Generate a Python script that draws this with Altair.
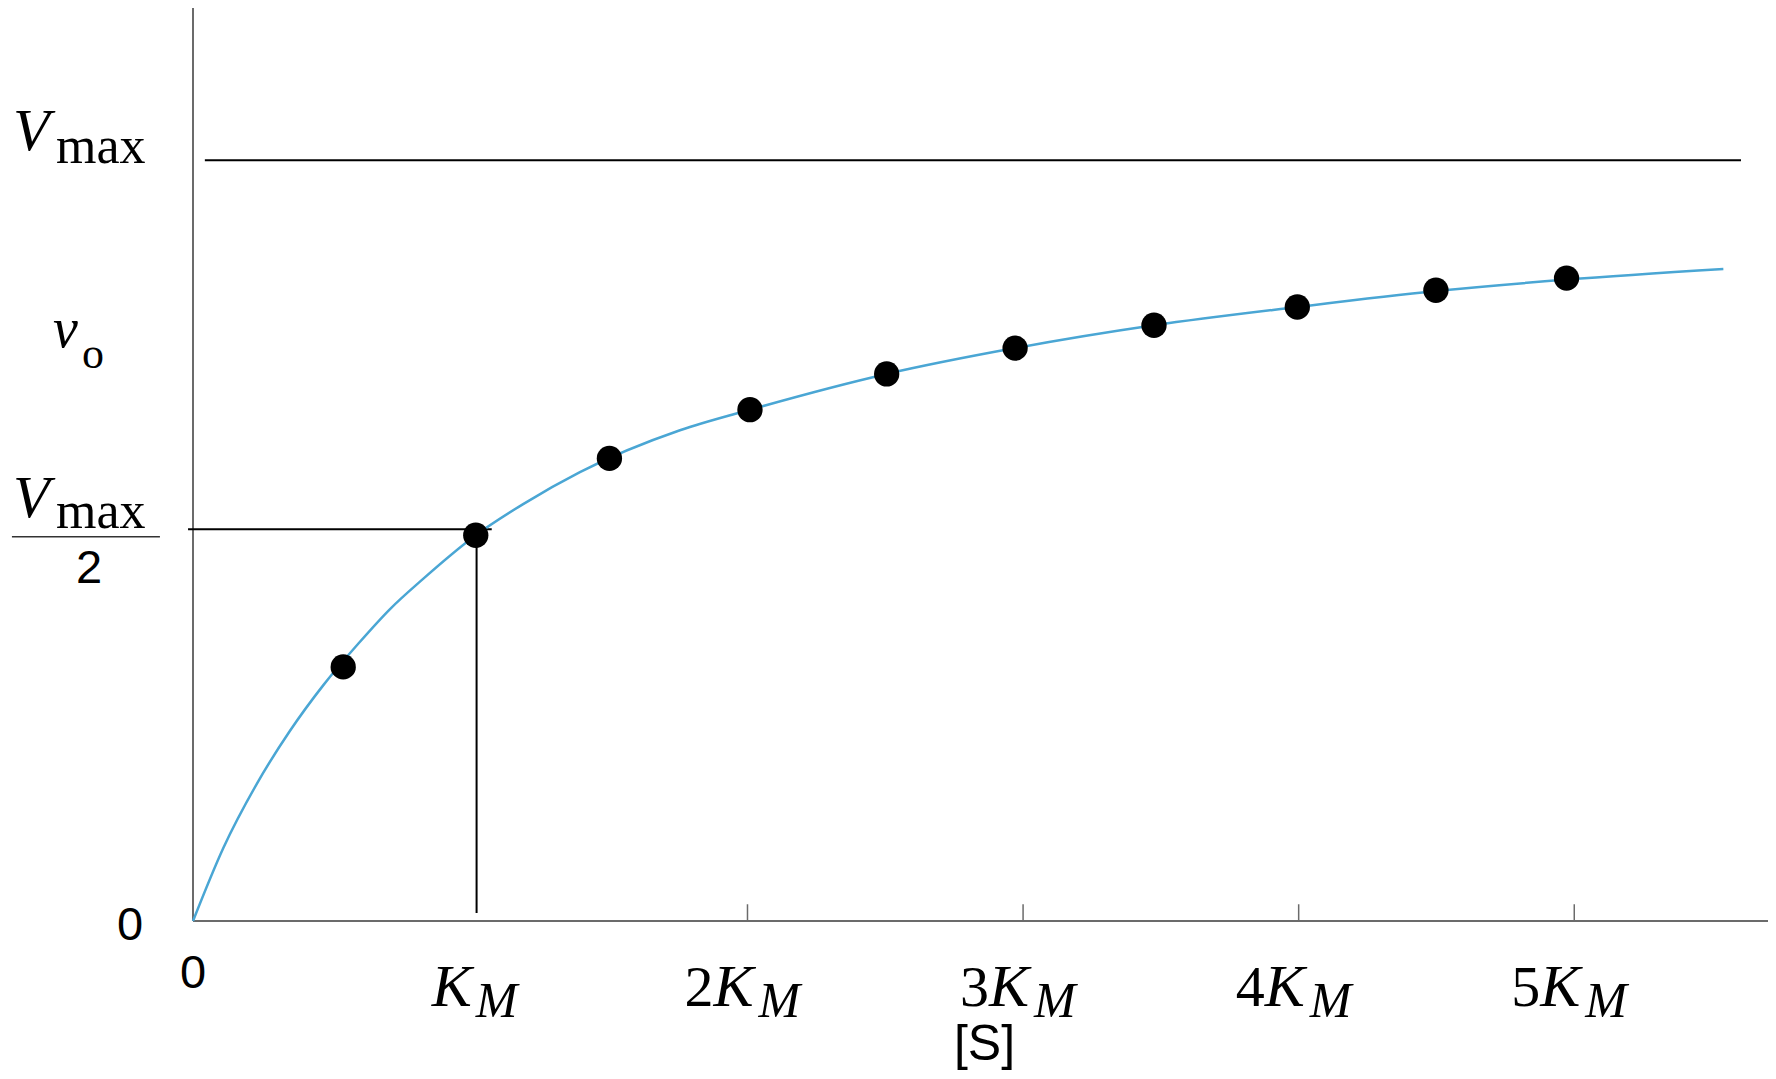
import altair as alt
import pandas as pd

# ---- data (x in units of K_M, y in units of V_max) ----
dot_s = [0.533, 1.014, 1.499, 2.009, 2.505, 2.971, 3.475, 3.995, 4.498, 4.972]
dot_v = [0.334, 0.507, 0.608, 0.672, 0.719, 0.753, 0.783, 0.807, 0.829, 0.845]

curve_s = [-0.012, 0.098, 0.219, 0.340, 0.461, 0.589, 0.703, 0.824, 1.014, 1.186,
           1.392, 1.755, 2.009, 2.505, 2.971, 3.475, 3.995, 4.498, 4.972, 5.541]
curve_v = [0.0, 0.096, 0.180, 0.250, 0.310, 0.365, 0.410, 0.450, 0.507, 0.548,
           0.590, 0.645, 0.672, 0.719, 0.753, 0.783, 0.807, 0.828, 0.843, 0.857]

tick_vals = [2, 3, 4, 5]
km_label_vals = [1.014]
nkm_label_vals = [2, 3, 4, 5]
nkm_digits = ["2", "3", "4", "5"]

x_min = -0.012          # position of the vertical axis line
x_max = 5.703
y_max = 1.2
vmax = 1.0
vmax_line = [0.031, 5.605]
half_v = 0.515
half_line = [-0.030, 1.072]
km_line_s = 1.017
km_line_v = [0.0105, 0.515]
frac_v = 0.505
frac_bar = [-0.669, -0.132]
vo_v = 0.75
tick_len = 0.022
s_label_x = 2.86

SERIF = "Liberation Serif"
SANS = "Liberation Sans"
CURVE = "#4aa6d4"
AXIS = "#6b6b6b"

xs = alt.Scale(domain=[x_min, x_max], nice=False, zero=False)
ys = alt.Scale(domain=[0, y_max], nice=False, zero=False)

def X(f="s"):
    return alt.X(f"{f}:Q", scale=xs, axis=None)

def Y(f="v"):
    return alt.Y(f"{f}:Q", scale=ys, axis=None)

# axes
yaxis = alt.Chart(pd.DataFrame({"s": [x_min], "v": [0], "v2": [y_max]})).mark_rule(
    color=AXIS, strokeWidth=2).encode(x=X(), y=Y(), y2="v2:Q")
xaxis = alt.Chart(pd.DataFrame({"s": [x_min], "s2": [x_max], "v": [0]})).mark_rule(
    color=AXIS, strokeWidth=2).encode(x=X(), x2="s2:Q", y=Y())
ticks = alt.Chart(pd.DataFrame({"s": tick_vals, "v": [0] * 4, "v2": [tick_len] * 4})).mark_rule(
    color=AXIS, strokeWidth=1.5).encode(x=X(), y=Y(), y2="v2:Q")

# reference lines
vmax_rule = alt.Chart(pd.DataFrame({"s": [vmax_line[0]], "s2": [vmax_line[1]], "v": [vmax]})).mark_rule(
    color="black", strokeWidth=2).encode(x=X(), x2="s2:Q", y=Y())
half_rule = alt.Chart(pd.DataFrame({"s": [half_line[0]], "s2": [half_line[1]], "v": [half_v]})).mark_rule(
    color="black", strokeWidth=2).encode(x=X(), x2="s2:Q", y=Y())
km_rule = alt.Chart(pd.DataFrame({"s": [km_line_s], "v": [km_line_v[0]], "v2": [km_line_v[1]]})).mark_rule(
    color="black", strokeWidth=2).encode(x=X(), y=Y(), y2="v2:Q")
frac_rule = alt.Chart(pd.DataFrame({"s": [frac_bar[0]], "s2": [frac_bar[1]], "v": [frac_v]})).mark_rule(
    color="#333333", strokeWidth=1.5).encode(x=X(), x2="s2:Q", y=Y())

# curve and points
curve = alt.Chart(pd.DataFrame({"s": curve_s, "v": curve_v})).mark_line(
    color=CURVE, strokeWidth=2.5, interpolate="monotone").encode(x=X(), y=Y())
dots = alt.Chart(pd.DataFrame({"s": dot_s, "v": dot_v})).mark_circle(
    color="black", opacity=1, size=640).encode(x=X(), y=Y())

def txt(df, **kw):
    return alt.Chart(df).mark_text(color="black", **kw).encode(x=X(), y=Y(), text="t:N")

zero_df = pd.DataFrame({"s": [x_min], "v": [0], "t": ["0"]})

labels = [
    # y-axis labels
    txt(pd.DataFrame({"s": [x_min], "v": [vmax], "t": ["V"]}), font=SERIF, fontStyle="italic",
        fontSize=60, align="left", baseline="alphabetic", dx=-180, dy=-10),
    txt(pd.DataFrame({"s": [x_min], "v": [vmax], "t": ["max"]}), font=SERIF,
        fontSize=52, align="left", baseline="alphabetic", dx=-137, dy=3),
    txt(pd.DataFrame({"s": [x_min], "v": [vo_v], "t": ["v"]}), font=SERIF, fontStyle="italic",
        fontSize=56, align="left", baseline="alphabetic", dx=-140, dy=-3),
    txt(pd.DataFrame({"s": [x_min], "v": [vo_v], "t": ["o"]}), font=SERIF,
        fontSize=44, align="left", baseline="alphabetic", dx=-111, dy=18),
    txt(pd.DataFrame({"s": [x_min], "v": [frac_v], "t": ["V"]}), font=SERIF, fontStyle="italic",
        fontSize=60, align="left", baseline="alphabetic", dx=-180, dy=-20),
    txt(pd.DataFrame({"s": [x_min], "v": [frac_v], "t": ["max"]}), font=SERIF,
        fontSize=52, align="left", baseline="alphabetic", dx=-137, dy=-9),
    txt(pd.DataFrame({"s": [x_min], "v": [frac_v], "t": ["2"]}), font=SANS,
        fontSize=47, align="center", baseline="alphabetic", dx=-104, dy=46),
    txt(zero_df, font=SANS, fontSize=47, align="center", baseline="alphabetic", dx=-63, dy=19),
    # x-axis labels
    txt(zero_df, font=SANS, fontSize=47, align="center", baseline="alphabetic", dy=67),
    txt(pd.DataFrame({"s": km_label_vals, "v": [0], "t": ["K"]}), font=SERIF, fontStyle="italic",
        fontSize=60, align="left", baseline="alphabetic", dx=-44, dy=85),
    txt(pd.DataFrame({"s": km_label_vals, "v": [0], "t": ["M"]}), font=SERIF, fontStyle="italic",
        fontSize=50, align="left", baseline="alphabetic", dx=0, dy=96),
    txt(pd.DataFrame({"s": nkm_label_vals, "v": [0] * 4, "t": nkm_digits}), font=SERIF,
        fontSize=58, align="left", baseline="alphabetic", dx=-63, dy=85),
    txt(pd.DataFrame({"s": nkm_label_vals, "v": [0] * 4, "t": ["K"] * 4}), font=SERIF, fontStyle="italic",
        fontSize=60, align="left", baseline="alphabetic", dx=-34, dy=85),
    txt(pd.DataFrame({"s": nkm_label_vals, "v": [0] * 4, "t": ["M"] * 4}), font=SERIF, fontStyle="italic",
        fontSize=50, align="left", baseline="alphabetic", dx=11, dy=96),
    txt(pd.DataFrame({"s": [s_label_x], "v": [0], "t": ["[S]"]}), font=SANS,
        fontSize=50, align="center", baseline="alphabetic", dy=139),
]

chart = alt.layer(
    yaxis, xaxis, ticks, vmax_rule, half_rule, km_rule, frac_rule, curve, dots, *labels
).properties(
    width=1575, height=913,
    autosize=alt.AutoSizeParams(type="none"),
    padding={"left": 185, "top": 0, "right": 0, "bottom": 150},
    background="white",
).configure_view(stroke=None)

chart.save("out.html", embed_options={"renderer": "svg", "actions": False})
